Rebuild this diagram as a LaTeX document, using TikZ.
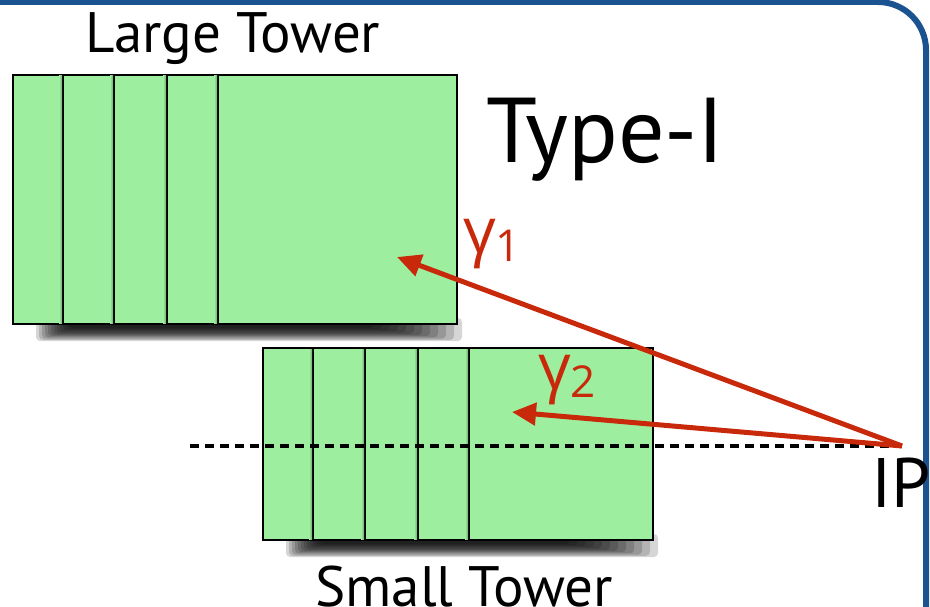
\documentclass[tikz,border=0pt]{standalone}
\usepackage{fontspec}
\setmainfont{PT Sans}
\newfontfamily\greekfont{Open Sans}
\usetikzlibrary{arrows.meta}
\definecolor{towergreen}{HTML}{9EEEA0}
\definecolor{rayred}{HTML}{C8290A}
\definecolor{frameblue}{HTML}{1B5290}
\tikzset{
  panel/.style={draw=black, line width=2pt, fill=towergreen, inner sep=0pt, outer sep=0pt, anchor=north west},
  edgeshade/.style={left color=towergreen, right color=towergreen!72!black},
  ray/.style={draw=rayred, line width=5pt, -{Triangle[length=24pt,width=22pt]}},
  axisline/.style={draw=black, line width=3.6pt, dash pattern=on 9pt off 6pt},
  lbl/.style={inner sep=0pt, anchor=base},
  glbl/.style={inner sep=0pt, anchor=base west, text=rayred},
  shadowlayer/.style={fill=black, opacity=0.16, rounded corners=4pt},
}
\begin{document}
\begin{tikzpicture}[x=1pt,y=-1pt]
\useasboundingbox (0,0) rectangle (930,607);
\draw[frameblue, line width=6pt, rounded corners=48pt] (-200,2) rectangle (926,900);
% shadows
\foreach \k in {0,...,11} {
  \fill[shadowlayer] ({36+\k*3},{318}) rectangle ({462-\k*8},{341-\k*1.2});
  \fill[shadowlayer] ({286+\k*3},{534}) rectangle ({658-\k*8},{557-\k*1.2});
}
% large tower
\node[panel, minimum width=50pt, minimum height=249pt] (L1) at (13,75) {};
\node[panel, minimum width=51pt, minimum height=249pt] (L2) at (63,75) {};
\node[panel, minimum width=53pt, minimum height=249pt] (L3) at (114,75) {};
\node[panel, minimum width=51pt, minimum height=249pt] (L4) at (167,75) {};
\node[panel, minimum width=239pt, minimum height=249pt] (L5) at (218,75) {};
\foreach \n in {L1,L2,L3,L4} {
  \shade[edgeshade] ([xshift=-4pt,yshift=-1pt]\n.north east) rectangle ([xshift=-1pt,yshift=1pt]\n.south east);
}
% small tower
\node[panel, minimum width=50pt, minimum height=192pt] (S1) at (263,348) {};
\node[panel, minimum width=52pt, minimum height=192pt] (S2) at (313,348) {};
\node[panel, minimum width=53pt, minimum height=192pt] (S3) at (365,348) {};
\node[panel, minimum width=51pt, minimum height=192pt] (S4) at (418,348) {};
\node[panel, minimum width=184pt, minimum height=192pt] (S5) at (469,348) {};
\foreach \n in {S1,S2,S3,S4} {
  \shade[edgeshade] ([xshift=-4pt,yshift=-1pt]\n.north east) rectangle ([xshift=-1pt,yshift=1pt]\n.south east);
}
% labels
\node[lbl] (lt) at (233,53) {\fontsize{57}{60}\selectfont Large Tower};
\node[lbl] (st) at (464,606) {\fontsize{57}{60}\selectfont Small Tower};
\node[inner sep=0pt, anchor=base west] (type) at (486,163) {\fontsize{92}{92}\selectfont Type-I};
\node[inner sep=0pt, anchor=base west] (ip) at (871,507) {\fontsize{70}{70}\selectfont IP};
% beam axis and rays
\coordinate (IPpt) at (902,446);
\coordinate (axstart) at (190,446);
\coordinate (g1end) at (397,257);
\coordinate (g2end) at (512,412);
\draw[axisline] (axstart) -- (IPpt);
\draw[ray] (IPpt) -- (g1end);
\draw[ray] (IPpt) -- (g2end);
\node[glbl] (g1) at (463,254) {\greekfont\fontsize{64}{64}\selectfont γ\raisebox{-8pt}{\fontsize{44}{44}\selectfont 1}};
\node[glbl] (g2) at (538,389) {\greekfont\fontsize{64}{64}\selectfont γ\raisebox{-8pt}{\fontsize{44}{44}\selectfont 2}};
\end{tikzpicture}
\end{document}
